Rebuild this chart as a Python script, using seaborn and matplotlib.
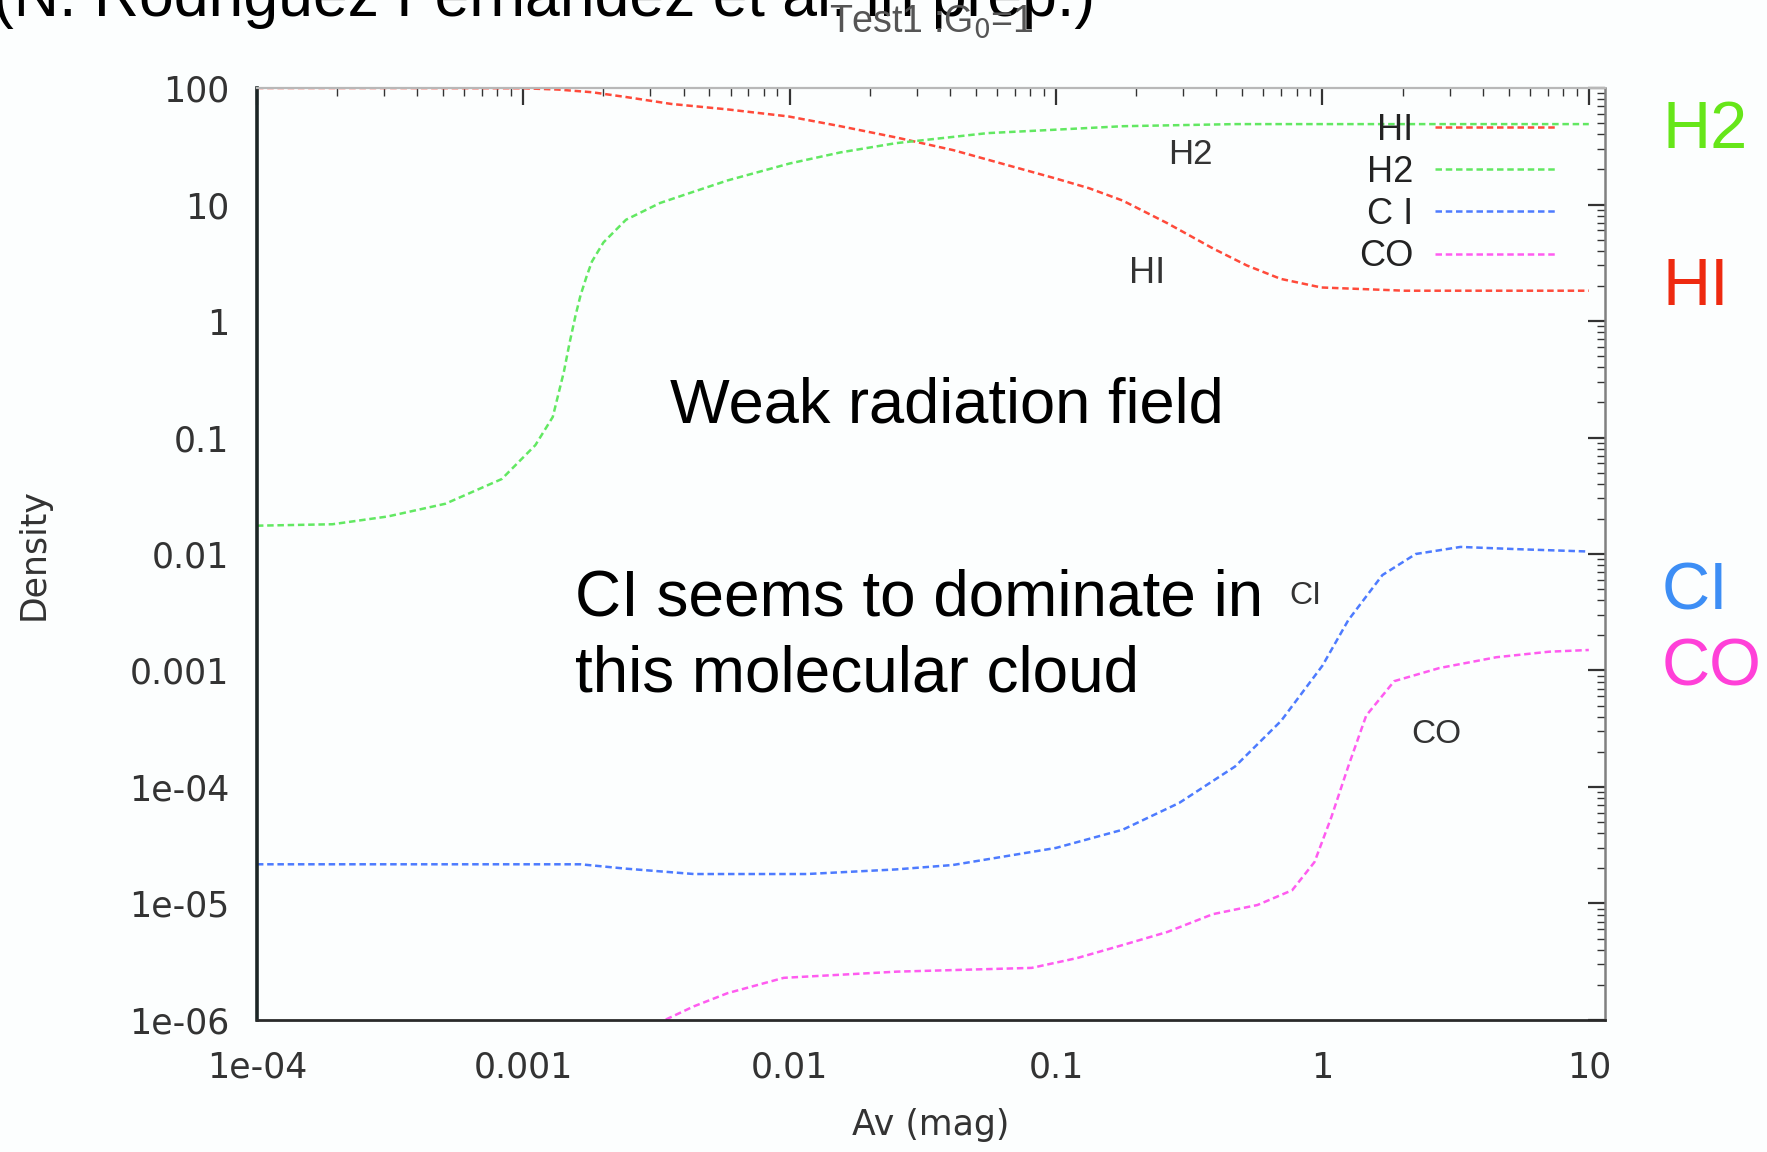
import numpy as np
import pandas as pd
import matplotlib
matplotlib.use("Agg")
import matplotlib.pyplot as plt
from matplotlib.ticker import FixedLocator, FixedFormatter, LogLocator, NullFormatter
import seaborn as sns

# ---- abundance profiles versus visual extinction ----
av_hi = [1e-4, 3e-4, 1e-3, 1.35e-3, 1.81e-3, 2.43e-3, 3.59e-3, 5.85e-3, 9.9e-3, 1.55e-2, 2.53e-2, 4.11e-2,
         6.7e-2, 9.9e-2, 0.133, 0.178, 0.262, 0.388, 0.52, 0.697, 0.99, 2.04, 5.0, 10.0]
n_hi = [100, 100, 99.5, 97, 92, 83.7, 73, 65.5, 57, 47, 37.5, 29.3,
        21.5, 16.8, 13.8, 10.8, 6.9, 4.2, 3.0, 2.3, 1.94, 1.82, 1.82, 1.82]

av_h2 = [1e-4, 1.92e-4, 3.1e-4, 5.1e-4, 8.3e-4, 1.11e-3, 1.29e-3, 1.42e-3, 1.49e-3, 1.57e-3, 1.64e-3, 1.73e-3,
         1.81e-3, 2.0e-3, 2.43e-3, 3.26e-3, 4.37e-3, 5.85e-3, 1e-2, 1.55e-2, 2.5e-2, 5.53e-2, 0.1, 0.178,
         0.47, 1.0, 3.0, 10.0]
n_h2 = [0.0175, 0.018, 0.021, 0.027, 0.044, 0.086, 0.15, 0.366, 0.64, 1.11, 1.66, 2.43,
        3.24, 4.73, 7.4, 10.3, 12.9, 16.1, 22.5, 28, 33.6, 41, 43.9, 47,
        49, 49, 49, 49]

av_ci = [1e-4, 1.64e-3, 2.43e-3, 4.37e-3, 1.16e-2, 2.5e-2, 4.1e-2, 0.1, 0.178, 0.29, 0.47, 0.70,
         1.0, 1.25, 1.68, 2.24, 3.3, 5.4, 10.0]
n_ci = [2.17e-5, 2.17e-5, 1.99e-5, 1.79e-5, 1.79e-5, 1.96e-5, 2.14e-5, 3.0e-5, 4.3e-5, 7.3e-5, 1.5e-4, 3.7e-4,
        1.1e-3, 2.7e-3, 6.6e-3, 1.0e-2, 1.15e-2, 1.1e-2, 1.05e-2]

av_co = [2e-3, 3.4e-3, 4.37e-3, 5.85e-3, 9.5e-3, 2.53e-2, 8.1e-2, 0.12, 0.178, 0.262, 0.388, 0.57, 0.77,
         0.934, 1.08, 1.25, 1.46, 1.86, 2.75, 4.5, 7.1, 10.0]
n_co = [5e-7, 1.0e-6, 1.31e-6, 1.7e-6, 2.3e-6, 2.6e-6, 2.8e-6, 3.4e-6, 4.4e-6, 5.7e-6, 8.1e-6, 9.7e-6, 1.3e-5,
        2.27e-5, 5.5e-5, 1.5e-4, 4.1e-4, 8.1e-4, 1.05e-3, 1.3e-3, 1.45e-3, 1.5e-3]

species = ["HI", "H2", "C I", "CO"]
colors = ["#ff4a3a", "#62e862", "#4d7bff", "#ff5cf0"]

x_ticks = [1e-4, 1e-3, 1e-2, 0.1, 1, 10]
x_ticklabels = ["1e-04", "0.001", "0.01", "0.1", "1", "10"]
y_ticks = [1e-6, 1e-5, 1e-4, 1e-3, 1e-2, 0.1, 1, 10, 100]
y_ticklabels = ["1e-06", "1e-05", "1e-04", "0.001", "0.01", "0.1", "1", "10", "100"]

sns.set_style("white")
plt.rcParams["font.family"] = ["Liberation Sans", "DejaVu Sans"]

fig = plt.figure(figsize=(17.67, 11.52), dpi=100, facecolor="#fcfefe")
ax = fig.add_axes([0.1454, 0.1146, 0.7629, 0.809])
ax.set_facecolor("#fcfefe")

series = [(av_hi, n_hi), (av_h2, n_h2), (av_ci, n_ci), (av_co, n_co)]
for (xs, ys), name, col in zip(series, species, colors):
    df = pd.DataFrame({"Av": xs, "n": ys})
    sns.lineplot(data=df, x="Av", y="n", ax=ax, color=col, linewidth=1.8,
                 linestyle=(0, (2.6, 1.5)), label=name, estimator=None)

ax.set_xscale("log")
ax.set_yscale("log")
ax.set_xlim(1e-4, 11.5)
ax.set_ylim(1e-6, 100)

ax.xaxis.set_major_locator(FixedLocator(x_ticks))
ax.xaxis.set_major_formatter(FixedFormatter(x_ticklabels))
ax.yaxis.set_major_locator(FixedLocator(y_ticks))
ax.yaxis.set_major_formatter(FixedFormatter(y_ticklabels))
ax.xaxis.set_minor_locator(LogLocator(base=10, subs=np.arange(2, 10), numticks=20))
ax.yaxis.set_minor_locator(LogLocator(base=10, subs=np.arange(2, 10), numticks=20))
ax.xaxis.set_minor_formatter(NullFormatter())
ax.yaxis.set_minor_formatter(NullFormatter())

ax.tick_params(which="both", direction="in", top=True, right=True, colors="#333333")
ax.tick_params(which="major", length=12, width=1.6, labelsize=25)
ax.tick_params(axis="y", which="major", pad=20)
ax.tick_params(axis="x", which="major", pad=22)
ax.tick_params(which="minor", length=6, width=1.0)
for lab in ax.get_xticklabels() + ax.get_yticklabels():
    lab.set_family("DejaVu Sans")
    lab.set_color("#333333")

ax.spines["left"].set_color("#1c2626")
ax.spines["left"].set_linewidth(2.6)
ax.spines["bottom"].set_color("#2a2a2a")
ax.spines["bottom"].set_linewidth(2.0)
ax.spines["top"].set_color("#b8b8b8")
ax.spines["top"].set_linewidth(1.6)
ax.spines["right"].set_color("#808080")
ax.spines["right"].set_linewidth(1.8)

ax.set_xlabel("Av (mag)", fontsize=25, color="#333333", family="DejaVu Sans")
ax.set_ylabel("Density", fontsize=25, color="#333333", family="DejaVu Sans")
ax.xaxis.set_label_coords(0.5, -0.094)
ax.yaxis.set_label_coords(-0.153, 0.5)

leg = ax.legend(loc="upper right", bbox_to_anchor=(0.976, 0.993), markerfirst=False, frameon=False,
                fontsize=26, handlelength=3.3, handletextpad=0.62, labelspacing=0.2, borderpad=0)
for t in leg.get_texts():
    t.set_color("#222222")

# curve labels inside the frame
ax.text(0.32, 26.9, "H2", fontsize=25, color="#333333", ha="center", va="center")
ax.text(0.22, 2.54, "HI", fontsize=26, color="#333333", ha="center", va="center")
ax.text(0.86, 4.4e-3, "CI", fontsize=23, color="#333333", ha="center", va="center")
ax.text(2.68, 2.8e-4, "CO", fontsize=24, color="#333333", ha="center", va="center")

# commentary
fig.text(0.379, 0.633, "Weak radiation field", fontsize=45.5, color="black", ha="left", va="baseline")
fig.text(0.3253, 0.4653, "CI seems to dominate in", fontsize=46, color="black", ha="left", va="baseline")
fig.text(0.3253, 0.400, "this molecular cloud", fontsize=46, color="black", ha="left", va="baseline")

# species tags beside the frame
fig.text(0.9406, 0.886, "H2", fontsize=48, color="#66e619", ha="left", va="center")
fig.text(0.9406, 0.750, "HI", fontsize=48, color="#ee2a10", ha="left", va="center")
fig.text(0.9406, 0.486, "CI", fontsize=48, color="#3d8ef5", ha="left", va="center")
fig.text(0.9406, 0.420, "CO", fontsize=48, color="#ff40d8", ha="left", va="center")

# reference line and plot title across the top edge
fig.text(-0.004, 0.986, "(N. Rodriguez Fernandez et al. in prep.)", fontsize=45, color="black",
         ha="left", va="baseline")
fig.text(0.527, 0.9727, r"Test1 :G$_0$=1", fontsize=27, color="#555555", ha="center", va="baseline")

fig.savefig("out.png", dpi=100, facecolor=fig.get_facecolor())
